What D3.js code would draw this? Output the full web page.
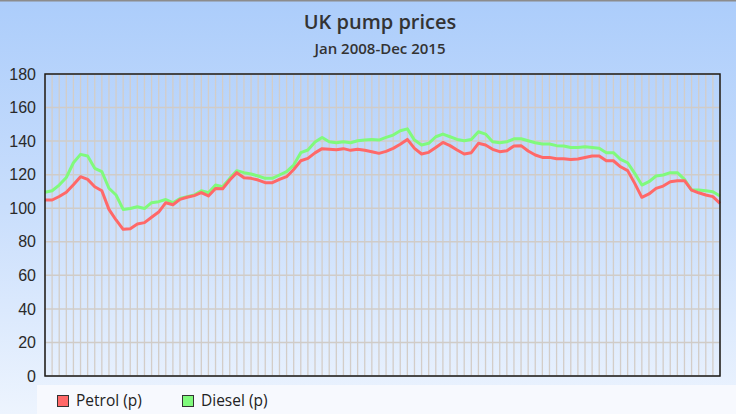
<!DOCTYPE html>
<html>
<head>
<meta charset="utf-8">
<script src="https://cdn.jsdelivr.net/npm/d3@7"></script>
<style>
  html, body { margin: 0; padding: 0; background: #fff; }
  svg { display: block; }
</style>
</head>
<body>
<svg id="chart" width="736" height="414"></svg>
<script>
// ---- Data ----
const years = [2008, 2009, 2010, 2011, 2012, 2013, 2014, 2015];
const monthNames = ["Jan","Feb","Mar","Apr","May","Jun","Jul","Aug","Sep","Oct","Nov","Dec"];
const months = years.flatMap(y => monthNames.map(m => m + " " + y));

const petrol = [
  104.9, 104.9, 107.0, 109.5, 114.0, 118.8, 117.2, 112.8, 110.4, 99.3, 93.0, 87.4,
  87.8, 90.6, 91.4, 94.6, 97.7, 103.3, 102.1, 105.3, 106.5, 107.5, 109.3, 107.3,
  111.8, 111.6, 116.8, 121.2, 118.2, 117.8, 116.8, 115.2, 115.2, 117.2, 118.8, 123.1,
  128.3, 129.7, 133.0, 135.5, 135.2, 134.9, 135.5, 134.5, 135.2, 134.5, 133.7, 132.7,
  133.9, 135.7, 138.1, 141.0, 135.7, 132.3, 133.3, 136.2, 139.2, 137.3, 134.7, 132.3,
  133.1, 138.7, 137.7, 135.1, 133.7, 134.3, 137.1, 137.3, 134.1, 131.7, 130.3, 130.3,
  129.5, 129.5, 129.1, 129.3, 130.2, 131.1, 131.1, 128.3, 128.3, 124.7, 122.4, 114.8,
  106.5, 108.5, 111.8, 113.2, 115.8, 116.4, 116.4, 110.8, 109.2, 107.9, 106.9, 102.9
];
const diesel = [
  109.5, 110.4, 113.8, 118.3, 127.1, 132.1, 131.1, 123.8, 121.8, 111.9, 107.9, 99.3,
  99.8, 100.9, 99.8, 103.3, 103.9, 105.2, 103.3, 105.8, 106.9, 107.9, 110.4, 109.2,
  113.8, 112.8, 117.8, 122.4, 121.2, 120.4, 119.2, 117.8, 117.8, 119.8, 121.8, 125.7,
  133.1, 134.7, 139.4, 142.2, 139.6, 139.0, 139.6, 139.0, 140.2, 140.6, 141.0, 140.6,
  142.2, 143.6, 146.2, 147.3, 140.6, 137.7, 138.7, 142.6, 144.2, 142.6, 141.0, 140.2,
  141.0, 145.6, 144.2, 139.6, 139.0, 139.6, 141.4, 141.4, 140.2, 139.0, 138.3, 138.3,
  137.3, 137.1, 136.2, 136.2, 136.7, 136.2, 135.7, 133.1, 133.1, 129.1, 127.1, 120.8,
  113.8, 115.8, 119.2, 119.8, 121.2, 121.2, 117.2, 110.8, 110.8, 110.4, 109.8, 107.3
];
const yTicks = [0, 20, 40, 60, 80, 100, 120, 140, 160, 180];
const seriesNames = ["Petrol (p)", "Diesel (p)"];
const seriesColors = ["#ff6868", "#80fa7c"];
const titleText = "UK pump prices";
const subtitleText = "Jan 2008-Dec 2015";

// ---- Layout ----
const W = 736, H = 414;
const plot = { left: 45, right: 720, top: 74, bottom: 376 };

const svg = d3.select("#chart");
const defs = svg.append("defs");
const grad = defs.append("linearGradient").attr("id", "bg")
  .attr("x1", 0).attr("y1", 0).attr("x2", 0).attr("y2", 1);
grad.append("stop").attr("offset", "0%").attr("stop-color", "#accdfb");
grad.append("stop").attr("offset", "50%").attr("stop-color", "#c9defc");
grad.append("stop").attr("offset", "100%").attr("stop-color", "#edf4fe");

svg.append("rect").attr("width", W).attr("height", H).attr("fill", "url(#bg)");
svg.append("rect").attr("x", 0).attr("y", 0).attr("width", W).attr("height", 1.5).attr("fill", "#8c8c8c");

// legend backdrop
svg.append("rect").attr("x", 37).attr("y", 385).attr("width", W - 37).attr("height", H - 385)
  .attr("fill", "#f7f9fe");

// ---- Scales ----
const x = d3.scalePoint().domain(months).range([plot.left, plot.right]);
const y = d3.scaleLinear().domain([0, 180]).range([plot.bottom, plot.top]);

// ---- Grid ----
const grid = svg.append("g");
grid.selectAll("line.v").data(months).join("line")
  .attr("x1", d => x(d)).attr("x2", d => x(d))
  .attr("y1", plot.top).attr("y2", plot.bottom)
  .attr("stroke", "#d3cdc8").attr("stroke-width", 1.3);
grid.selectAll("line.h").data(yTicks).join("line")
  .attr("x1", plot.left).attr("x2", plot.right)
  .attr("y1", d => y(d)).attr("y2", d => y(d))
  .attr("stroke", "#d0ccc8").attr("stroke-width", 1.5);

// ---- Axis labels ----
const yAxis = d3.axisLeft(y).tickValues(yTicks).tickSize(0).tickPadding(9);
const yg = svg.append("g").attr("transform", `translate(${plot.left},0)`).call(yAxis);
yg.select(".domain").remove();
yg.selectAll("text")
  .attr("font-family", "'Liberation Sans', Arial, sans-serif")
  .attr("font-size", 16).attr("fill", "#2a2a2a");

// ---- Lines ----
const line = d3.line().x((d, i) => x(months[i])).y(d => y(d));
[diesel, petrol].forEach((s, k) => {
  const idx = k === 0 ? 1 : 0;
  svg.append("path").datum(s)
    .attr("fill", "none")
    .attr("stroke", seriesColors[idx])
    .attr("stroke-width", 3)
    .attr("stroke-linejoin", "round")
    .attr("d", line);
});

// ---- Plot border ----
svg.append("rect")
  .attr("x", plot.left).attr("y", plot.top)
  .attr("width", plot.right - plot.left).attr("height", plot.bottom - plot.top)
  .attr("fill", "none").attr("stroke", "#1a1a1a").attr("stroke-width", 1.5);

// ---- Titles ----
svg.append("text").attr("x", 380).attr("y", 29).attr("text-anchor", "middle")
  .attr("font-family", "'Open Sans', sans-serif").attr("font-weight", 600)
  .attr("font-size", 20).attr("fill", "#333").text(titleText);
svg.append("text").attr("x", 380).attr("y", 54).attr("text-anchor", "middle")
  .attr("font-family", "'Open Sans', sans-serif").attr("font-weight", 600)
  .attr("font-size", 15).attr("fill", "#333").text(subtitleText);

// ---- Legend ----
const legendX = [57, 182];
const lg = svg.append("g");
seriesNames.forEach((n, i) => {
  lg.append("rect").attr("x", legendX[i] + 0.5).attr("y", 395.5).attr("width", 11).attr("height", 11)
    .attr("fill", seriesColors[i]).attr("stroke", "#333").attr("stroke-width", 1);
  lg.append("text").attr("x", legendX[i] + 19).attr("y", 406)
    .attr("font-family", "'Open Sans', sans-serif")
    .attr("font-size", 15.5).attr("fill", "#222").text(n);
});
</script>
</body>
</html>
